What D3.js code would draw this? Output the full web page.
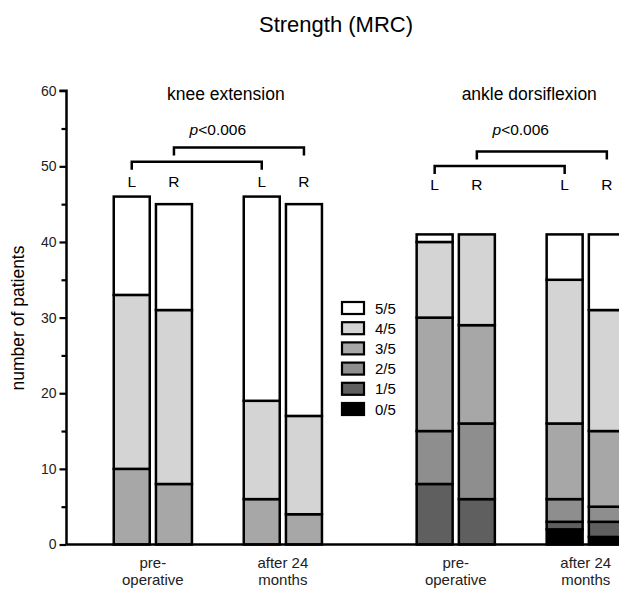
<!DOCTYPE html>
<html><head><meta charset="utf-8">
<script src="https://cdn.jsdelivr.net/npm/d3@7"></script>
<style>body{margin:0;background:#fff}svg{display:block;font-family:"Liberation Sans",Arial,sans-serif}</style>
</head><body><svg id="c" width="619" height="590"></svg>
<script>
const grades = ["0/5","1/5","2/5","3/5","4/5","5/5"];
const gradeColors = ["#000000","#5f5f5f","#8e8e8e","#a7a7a7","#d4d4d4","#ffffff"];
const muscles = ["knee extension","ankle dorsiflexion"];
const timepoints = ["pre-operative","after 24 months"];
const timeLabels = [["pre-","operative"],["after 24","months"]];
const sides = ["L","R"];
// counts per grade [0/5,1/5,2/5,3/5,4/5,5/5]
const kneePreL   = [0,0,0,10,23,13];
const kneePreR   = [0,0,0,8,23,14];
const kneePostL  = [0,0,0,6,13,27];
const kneePostR  = [0,0,0,4,13,28];
const anklePreL  = [0,8,7,15,10,1];
const anklePreR  = [0,6,10,13,12,0];
const anklePostL = [2,1,3,10,19,6];
const anklePostR = [1,2,2,10,16,10];
const yTicks = [0,10,20,30,40,50,60];
const pLabel = "0.006";

const bars = [
  {m:muscles[0],t:timepoints[0],s:"L",v:kneePreL},
  {m:muscles[0],t:timepoints[0],s:"R",v:kneePreR},
  {m:muscles[0],t:timepoints[1],s:"L",v:kneePostL},
  {m:muscles[0],t:timepoints[1],s:"R",v:kneePostR},
  {m:muscles[1],t:timepoints[0],s:"L",v:anklePreL},
  {m:muscles[1],t:timepoints[0],s:"R",v:anklePreR},
  {m:muscles[1],t:timepoints[1],s:"L",v:anklePostL},
  {m:muscles[1],t:timepoints[1],s:"R",v:anklePostR}
];

const svg = d3.select("#c");
const y = d3.scaleLinear().domain([0,60]).range([544.5,90.7]);
const xM = d3.scaleBand().domain(muscles).range([66.4,672.2]);
const xT = d3.scaleBand().domain(timepoints).range([0,xM.bandwidth()]).paddingOuter(0.165);
const xS = d3.scaleBand().domain(sides).range([-39.1,39.1]).paddingInner(0.147);
const color = d3.scaleOrdinal().domain(grades).range(gradeColors);
const gc = (m,t) => xM(m)+xT(t)+xT.bandwidth()/2;
const bc = (m,t,s) => gc(m,t)+xS(s)+xS.bandwidth()/2;

// Title
svg.append("text").attr("x",336).attr("y",31.5).attr("text-anchor","middle")
  .attr("font-size",22).text("Strength (MRC)");

// Y axis
const yAxis = d3.axisLeft(y).tickValues(d3.range(0,61,5)).tickSize(7).tickPadding(3)
  .tickFormat(d => yTicks.includes(d) ? d : "");
const ga = svg.append("g").attr("transform","translate(66.5,0)").call(yAxis);
ga.select(".domain").attr("stroke","#000").attr("stroke-width",2.5).attr("d","M-7,90.7H0V544.5");
ga.selectAll(".tick line").attr("stroke-width",2.2).attr("x2", d => yTicks.includes(d) ? -7 : -5);
ga.selectAll(".tick text").attr("x",-10).attr("font-size",14).attr("font-family","Liberation Sans, Arial, sans-serif").attr("fill","#222");
svg.append("text").attr("transform","translate(24,318) rotate(-90)").attr("text-anchor","middle")
  .attr("font-size",17.5).text("number of patients");

// bars
bars.forEach(b => {
  const stack = [];
  let acc = 0;
  b.v.forEach((c,i) => { if (c>0) stack.push({g:grades[i],y0:acc,y1:acc+c}); acc += c; });
  const g = svg.append("g");
  g.selectAll("rect").data(stack).join("rect")
    .attr("x", bc(b.m,b.t,b.s)-xS.bandwidth()/2)
    .attr("width", xS.bandwidth())
    .attr("y", d => y(d.y1))
    .attr("height", d => y(d.y0)-y(d.y1))
    .attr("fill", d => color(d.g))
    .attr("stroke","#000").attr("stroke-width",2.5);
});

// X axis line
svg.append("line").attr("x1",66.5).attr("x2",619).attr("y1",544.5).attr("y2",544.5)
  .attr("stroke","#000").attr("stroke-width",2.5);

// x labels
muscles.forEach(m => {
  timepoints.forEach((t,i) => {
    const tx = svg.append("text").attr("text-anchor","middle").attr("font-size",15).attr("fill","#222");
    tx.append("tspan").attr("x",gc(m,t)).attr("y",568).text(timeLabels[i][0]);
    tx.append("tspan").attr("x",gc(m,t)).attr("y",585).text(timeLabels[i][1]);
  });
});

// subtitles, brackets
const panelCfg = [{subDx:8,b1:161.7,b2:147.5,lab:187,p:135},{subDx:8.5,b1:166,b2:151.5,lab:190,p:135}];
muscles.forEach((m,k) => {
  const cfg = panelCfg[k];
  const cx = xM(m)+xM.bandwidth()/2;
  const xPL = bc(m,timepoints[0],"L"), xPR = bc(m,timepoints[0],"R");
  const xAL = bc(m,timepoints[1],"L"), xAR = bc(m,timepoints[1],"R");
  svg.append("text").attr("x",cx+cfg.subDx).attr("y",100).attr("text-anchor","middle").attr("font-size",17.5).text(m);
  const pt = svg.append("text").attr("x",(xPR+xAL)/2).attr("y",cfg.p).attr("text-anchor","middle").attr("font-size",15.5);
  pt.append("tspan").attr("font-style","italic").text("p");
  pt.append("tspan").text("<"+pLabel);
  const br = (x1,x2,yy) => svg.append("path")
    .attr("d",`M${x1},${yy+8}V${yy}H${x2}V${yy+8}`)
    .attr("fill","none").attr("stroke","#000").attr("stroke-width",2.5);
  br(xPL,xAL,cfg.b1);
  br(xPR,xAR,cfg.b2);
  [[xPL,"L"],[xPR,"R"],[xAL,"L"],[xAR,"R"]].forEach(([xx,s]) =>
    svg.append("text").attr("x",xx).attr("y",cfg.lab).attr("text-anchor","middle").attr("font-size",15.5).text(s));
});

// legend
const lg = svg.append("g").attr("transform","translate(342,302)");
grades.slice().reverse().forEach((g,i) => {
  const row = lg.append("g").attr("transform",`translate(0,${i*20.2})`);
  row.append("rect").attr("width",22).attr("height",12).attr("fill",color(g)).attr("stroke","#000").attr("stroke-width",2.2);
  row.append("text").attr("x",33).attr("y",11.5).attr("font-size",15).text(g);
});
</script></body></html>
